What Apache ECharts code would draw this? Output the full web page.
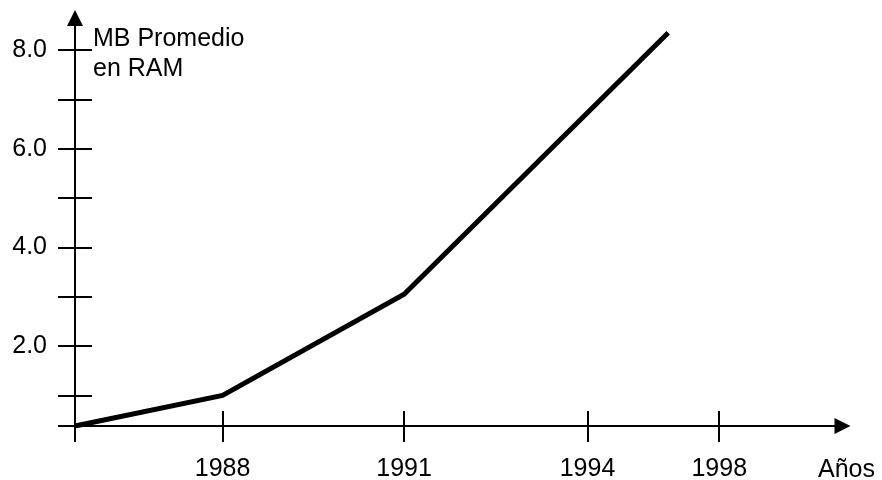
<!DOCTYPE html>
<html>
<head>
<meta charset="utf-8">
<script src="https://cdn.jsdelivr.net/npm/echarts@6/dist/echarts.min.js"></script>
<style>
html,body{margin:0;padding:0;background:#fff;}
#chart{width:882px;height:480px;}
</style>
</head>
<body>
<div id="chart"></div>
<script>
// Tick labels on the (schematic, non-linear) time axis
const yearLabels = ['1988', '1991', '1994', '1998'];
// Where the drawing places each year along the time axis (axis units)
const yearAxisPos = [2.43, 5.42, 8.44, 10.61];
// Line points: origin, 1988, 1991, end of the line (~1996)
const lineAxisPos = [0, 2.43, 5.42, 9.77];
const ramMB = [0.38, 1.0, 3.05, 8.35];
// Y axis ticks / labels (MB)
const yTickValues = [0.38, 1, 2, 3, 4, 5, 6, 7, 8];
const yLabelValues = [2, 4, 6, 8];

const X_MIN = 0, X_MAX = 12.64;
const Y_MIN = 0.38, Y_MAX = 8.65;
const FONT = 'Liberation Sans, Arial, sans-serif';
const FS = 25;

const chart = echarts.init(document.getElementById('chart'));

function xAxisDef(gridIndex, inside, main) {
  return {
    type: 'value', gridIndex: gridIndex, min: X_MIN, max: X_MAX,
    splitLine: {show: false},
    axisLine: main ? {show: true, onZero: false, symbol: ['none', 'triangle'], symbolSize: [16, 16],
      lineStyle: {color: '#000', width: 2}} : {show: false},
    axisTick: {show: true, inside: inside, length: inside ? 15 : 16,
      customValues: [0].concat(yearAxisPos), lineStyle: {color: '#000', width: 2}},
    axisLabel: main ? {show: true, customValues: yearAxisPos, margin: 31,
      formatter: function (v) { const i = yearAxisPos.indexOf(v); return i >= 0 ? yearLabels[i] : ''; },
      color: '#000', fontSize: FS, fontFamily: FONT} : {show: false},
    name: main ? 'Años' : '',
    nameLocation: 'end', nameGap: 4, nameMoveOverlap: false,
    nameTextStyle: {color: '#000', fontSize: FS, fontFamily: FONT, align: 'center', verticalAlign: 'top', padding: [32, 0, 0, 0]}
  };
}
function yAxisDef(gridIndex, inside, main) {
  return {
    type: 'value', gridIndex: gridIndex, min: Y_MIN, max: Y_MAX,
    splitLine: {show: false},
    axisLine: main ? {show: true, onZero: false, symbol: ['none', 'triangle'], symbolSize: [16, 16],
      lineStyle: {color: '#000', width: 2}} : {show: false},
    axisTick: {show: true, inside: inside, length: 17,
      customValues: yTickValues, lineStyle: {color: '#000', width: 2}},
    axisLabel: main ? {show: true, customValues: yLabelValues, margin: 28, padding: [8, 0, 0, 0],
      formatter: function (v) { return Number(v).toFixed(1); },
      color: '#000', fontSize: FS, fontFamily: FONT} : {show: false},
    name: main ? 'MB Promedio\nen RAM' : '',
    nameLocation: 'end', nameGap: -6, nameMoveOverlap: false,
    nameTextStyle: {color: '#000', fontSize: FS, fontFamily: FONT, lineHeight: 30,
      align: 'left', verticalAlign: 'top', padding: [0, 0, 0, 18]}
  };
}

const gridBox = {left: 75, right: 39.5, top: 18, bottom: 54, containLabel: false, outerBoundsMode: 'none'};

chart.setOption({
  animation: false,
  backgroundColor: '#fff',
  grid: [Object.assign({}, gridBox), Object.assign({}, gridBox)],
  xAxis: [xAxisDef(0, false, true), xAxisDef(1, true, false)],
  yAxis: [yAxisDef(0, false, true), yAxisDef(1, true, false)],
  series: [{
    type: 'line', xAxisIndex: 0, yAxisIndex: 0,
    data: lineAxisPos.map(function (x, i) { return [x, ramMB[i]]; }),
    symbol: 'none', smooth: false,
    lineStyle: {color: '#000', width: 5, cap: 'butt', join: 'miter'}
  }]
});
</script>
</body>
</html>
